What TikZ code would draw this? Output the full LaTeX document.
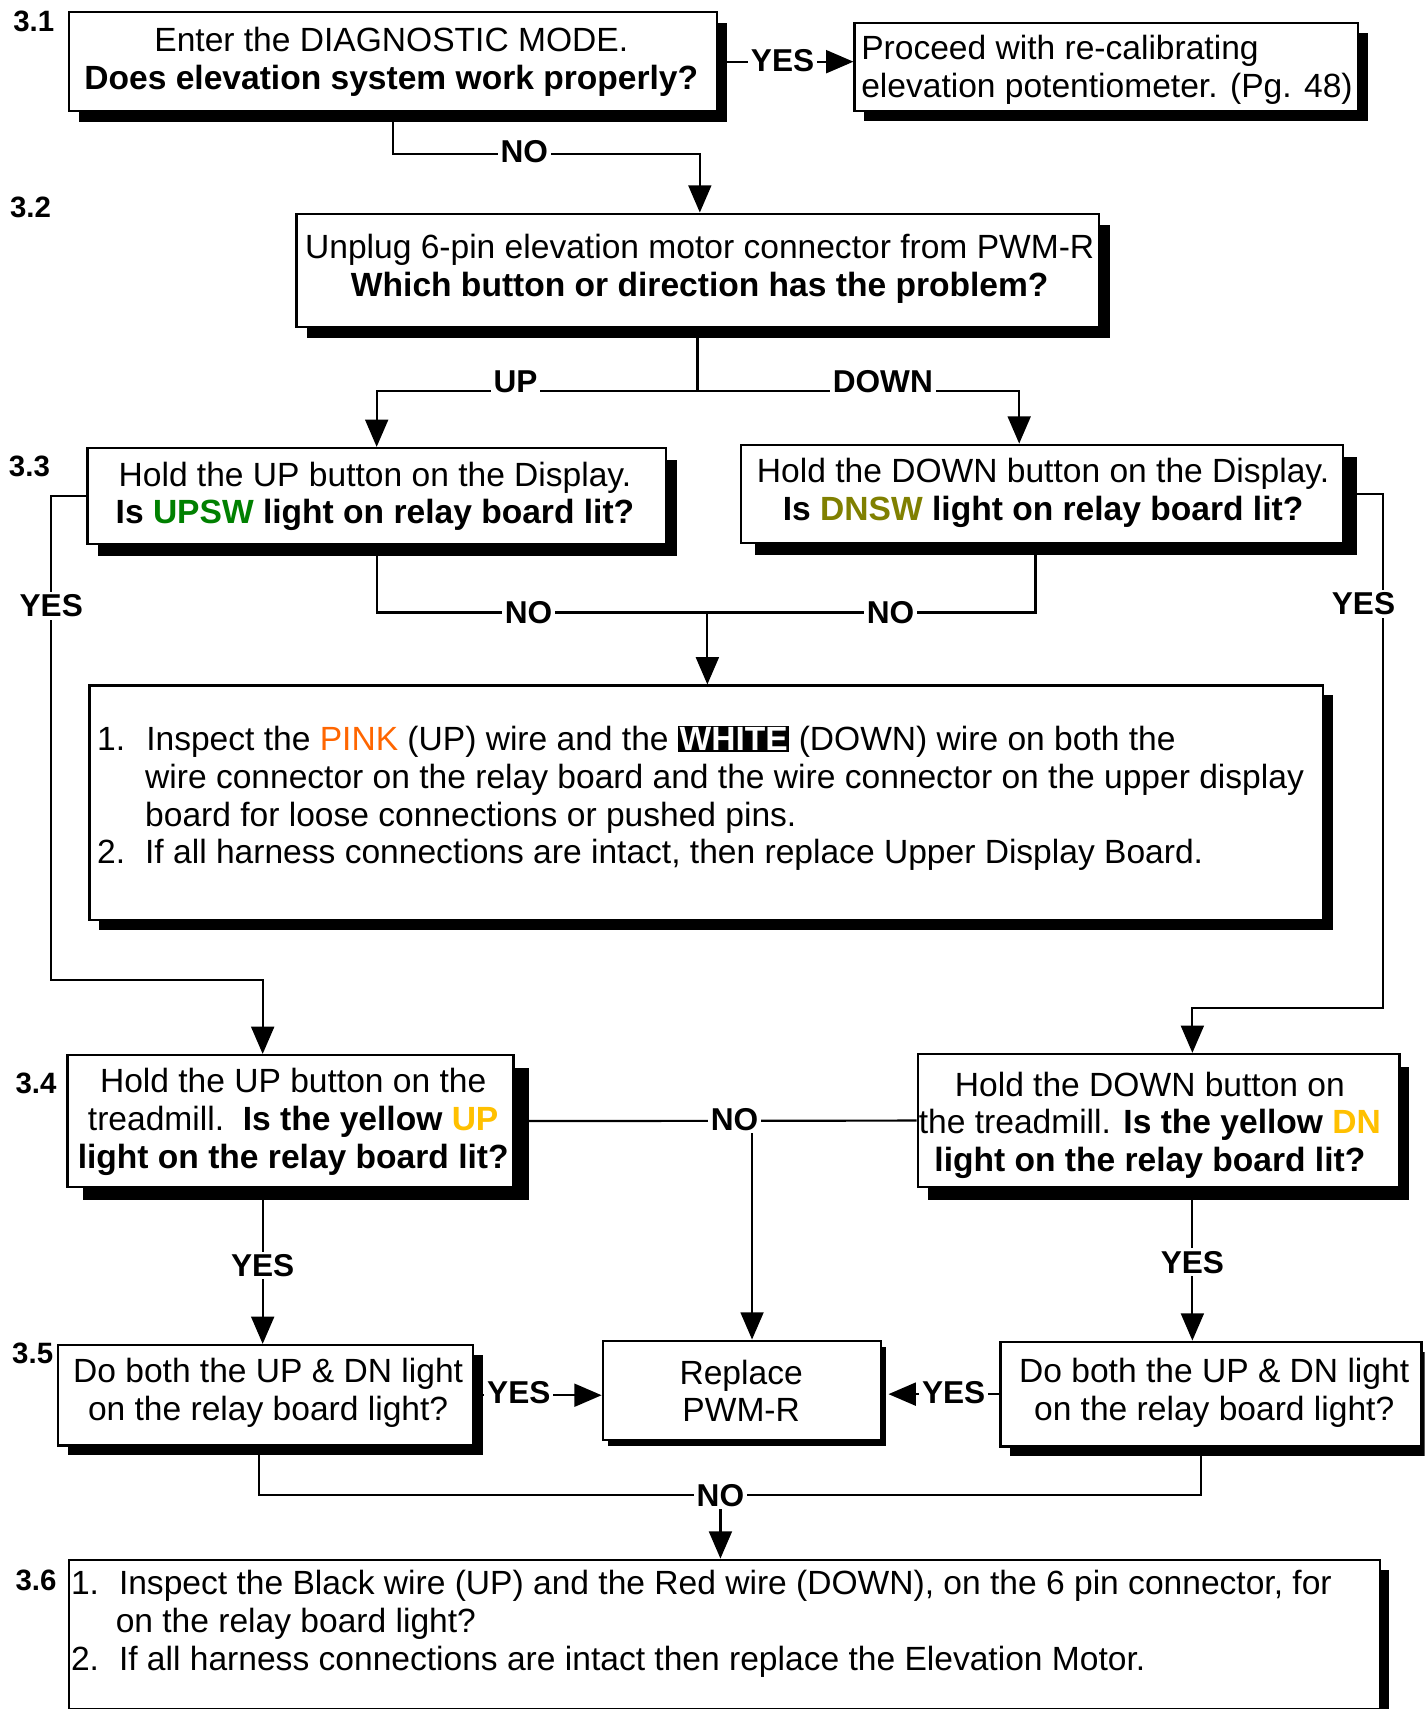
\documentclass[tikz,border=0pt]{standalone}
\usepackage{fontspec}
\setmainfont{Liberation Sans}
\usepackage{xcolor}
\usetikzlibrary{arrows.meta,shadows}
\definecolor{upswgreen}{RGB}{0,128,0}
\definecolor{dnswolive}{RGB}{128,128,0}
\definecolor{ylwgold}{RGB}{255,192,0}
\definecolor{pinkwire}{RGB}{255,102,0}
\newcommand\mainfnt{\fontsize{30.8}{34.7}\selectfont}
\newcommand\labfnt{\fontsize{29}{32}\selectfont\bfseries}
\newcommand\numfnt{\fontsize{27}{29}\selectfont\bfseries}
\begin{document}
\begin{tikzpicture}[x=1pt,y=-1pt,
  box/.style 2 args={draw, line width=2.2pt, fill=white, inner sep=0pt, anchor=north west,
     drop shadow={shadow xshift=#1, shadow yshift=-#2, fill=black, opacity=1}},
  txt/.style={font=\mainfnt, align=center, inner sep=0pt},
  txtl/.style={font=\mainfnt, align=left, inner sep=0pt, anchor=west},
  lab/.style={fill=white, inner sep=2.5pt, font=\labfnt},
  num/.style={font=\numfnt, inner sep=0pt},
  ln/.style={line width=2pt},
  arr/.style={line width=2pt, -{Triangle[length=25pt,width=21pt]}}]
\useasboundingbox (0,0) rectangle (1307,1568);
\clip (0,0) rectangle (1307,1568);

% boxes
\node[box={9pt}{10pt}, minimum width=595pt, minimum height=91pt] (A) at (62,10) {};
\node[box={9pt}{9pt}, minimum width=462pt, minimum height=81pt] (B) at (783,20) {};
\node[box={10pt}{10pt}, minimum width=736pt, minimum height=104pt] (C) at (271,195) {};
\node[box={10pt}{11pt}, minimum width=531pt, minimum height=88pt] (D) at (79,410) {};
\node[box={13pt}{11pt}, minimum width=552pt, minimum height=90pt] (E) at (679,407) {};
\node[box={9pt}{9pt}, minimum width=1132pt, minimum height=215pt] (F) at (81,628) {};
\node[box={14pt}{12pt}, minimum width=409pt, minimum height=121pt] (G) at (61,967) {};
\node[box={9pt}{12pt}, minimum width=442pt, minimum height=122pt] (H) at (841,966) {};
\node[box={5pt}{6pt}, minimum width=255pt, minimum height=91pt] (I) at (552,1229) {};
\node[box={9pt}{9pt}, minimum width=381pt, minimum height=92pt] (J) at (52,1233) {};
\node[box={9pt}{9pt}, minimum width=386pt, minimum height=96pt] (K) at (917,1230) {};
\node[box={8pt}{9pt}, minimum width=1203pt, minimum height=137pt] (L) at (62,1430) {};

% texts
\node[txt] (tA) at (359,57) {Enter the DIAGNOSTIC MODE.\\ \textbf{Does elevation system work properly?}};
\node[txtl] (tB) at (790,64) {Proceed with re-calibrating\\ elevation potentiometer. (Pg. 48)};
\node[txt] (tC) at (642,246.5) {Unplug 6-pin elevation motor connector from PWM-R\\ \textbf{Which button or direction has the problem?}};
\node[txt] (tD) at (344,455.5) {Hold the UP button on the Display.\\ \textbf{Is \textcolor{upswgreen}{UPSW} light on relay board lit?}};
\node[txt] (tE) at (957,452.5) {Hold the DOWN button on the Display.\\ \textbf{Is \textcolor{dnswolive}{DNSW} light on relay board lit?}};
\node[txtl] (tF) at (89,732.5) {\makebox[45pt][l]{1.}Inspect the \textcolor{pinkwire}{PINK} (UP) wire and the {\setlength{\fboxsep}{1.5pt}\colorbox{black}{\textcolor{white}{\textbf{WHITE}}}} (DOWN) wire on both the\\
\hspace*{44pt}wire connector on the relay board and the wire connector on the upper display\\
\hspace*{44pt}board for loose connections or pushed pins.\\
\makebox[44pt][l]{2.}If all harness connections are intact, then replace Upper Display Board.};
\node[txt] (tG) at (269,1029.5) {Hold the UP button on the\\ treadmill.\ \ \textbf{Is the yellow \textcolor{ylwgold}{UP}}\\ \textbf{light on the relay board lit?}};
\node[txt] (tH) at (1055,1032.5) {Hold the DOWN button on\\ the treadmill. \textbf{Is the yellow \textcolor{ylwgold}{DN}}\\ \textbf{light on the relay board lit?}};
\node[txt] (tI) at (680,1276) {Replace\\ PWM-R};
\node[txt] (tJ) at (246,1278) {Do both the UP \& DN light\\ on the relay board light?};
\node[txt] (tK) at (1114,1278) {Do both the UP \& DN light\\ on the relay board light?};
\node[txtl] (tL) at (65,1490) {\makebox[44pt][l]{1.}Inspect the Black wire (UP) and the Red wire (DOWN), on the 6 pin connector, for\\
\hspace*{41pt}on the relay board light?\\
\makebox[44pt][l]{2.}If all harness connections are intact then replace the Elevation Motor.};

% step numbers
\node[num] (n1) at (31,20) {3.1};
\node[num] (n2) at (28,190) {3.2};
\node[num] (n3) at (27,428) {3.3};
\node[num] (n4) at (33,994) {3.4};
\node[num] (n5) at (30,1242) {3.5};
\node[num] (n6) at (33,1450) {3.6};

% connectors
\draw[arr] (A.east) -- (A.east -| B.west);
\draw[arr] (A.south) -- ++(0,38) -| ([xshift=2pt]C.north);
\coordinate (cj) at (640,359);
\draw[ln] (C.south -| cj) -- (cj);
\draw[arr] (cj) -| (D.north);
\draw[arr] (cj) -| ([xshift=-21pt]E.north);
\coordinate (j1) at (649,562);
\draw[ln] (D.south) |- (j1);
\draw[ln] ([xshift=-6pt]E.south) |- (j1);
\draw[arr] (j1) -- (j1 |- F.north);
\draw[arr] (D.west) -| (47,899) -| (G.north -| 241,0);
\draw[arr] (E.east) -| (1269,925) -| (H.north -| 1094,0);
\draw[ln] (G.east) -- (H.west);
\coordinate (jn) at (690,1027);
\draw[arr] (jn) -- (jn |- I.north);
\draw[arr] (G.south -| 241,0) -- (J.north -| 241,0);
\draw[arr] (H.south -| 1094,0) -- (K.north -| 1094,0);
\draw[arr] (J.east) -- (J.east -| I.west);
\draw[arr] (K.west) -- ([xshift=6pt]K.west -| I.east);
\coordinate (jb) at (661,1372);
\draw[ln] (J.south -| 238,0) |- (jb);
\draw[ln] (K.south -| 1102,0) |- (jb);
\draw[arr] (jb) -- (jb |- L.north);

% connector labels
\node[lab] (l1) at (718,55.5) {YES};
\node[lab] (l2) at (481,139) {NO};
\node[lab] (l3) at (473,350) {UP};
\node[lab] (l4) at (810,350) {DOWN};
\node[lab] (l5) at (485,562) {NO};
\node[lab] (l6) at (817,562) {NO};
\node[lab] (l7) at (47,556) {YES};
\node[lab] (l8) at (1251,554) {YES};
\node[lab] (l9) at (674,1027) {NO};
\node[lab] (l10) at (241,1161) {YES};
\node[lab] (l11) at (1094,1158) {YES};
\node[lab] (l12) at (476,1278) {YES};
\node[lab] (l13) at (875,1278) {YES};
\node[lab] (l14) at (661,1372) {NO};
\end{tikzpicture}
\end{document}
